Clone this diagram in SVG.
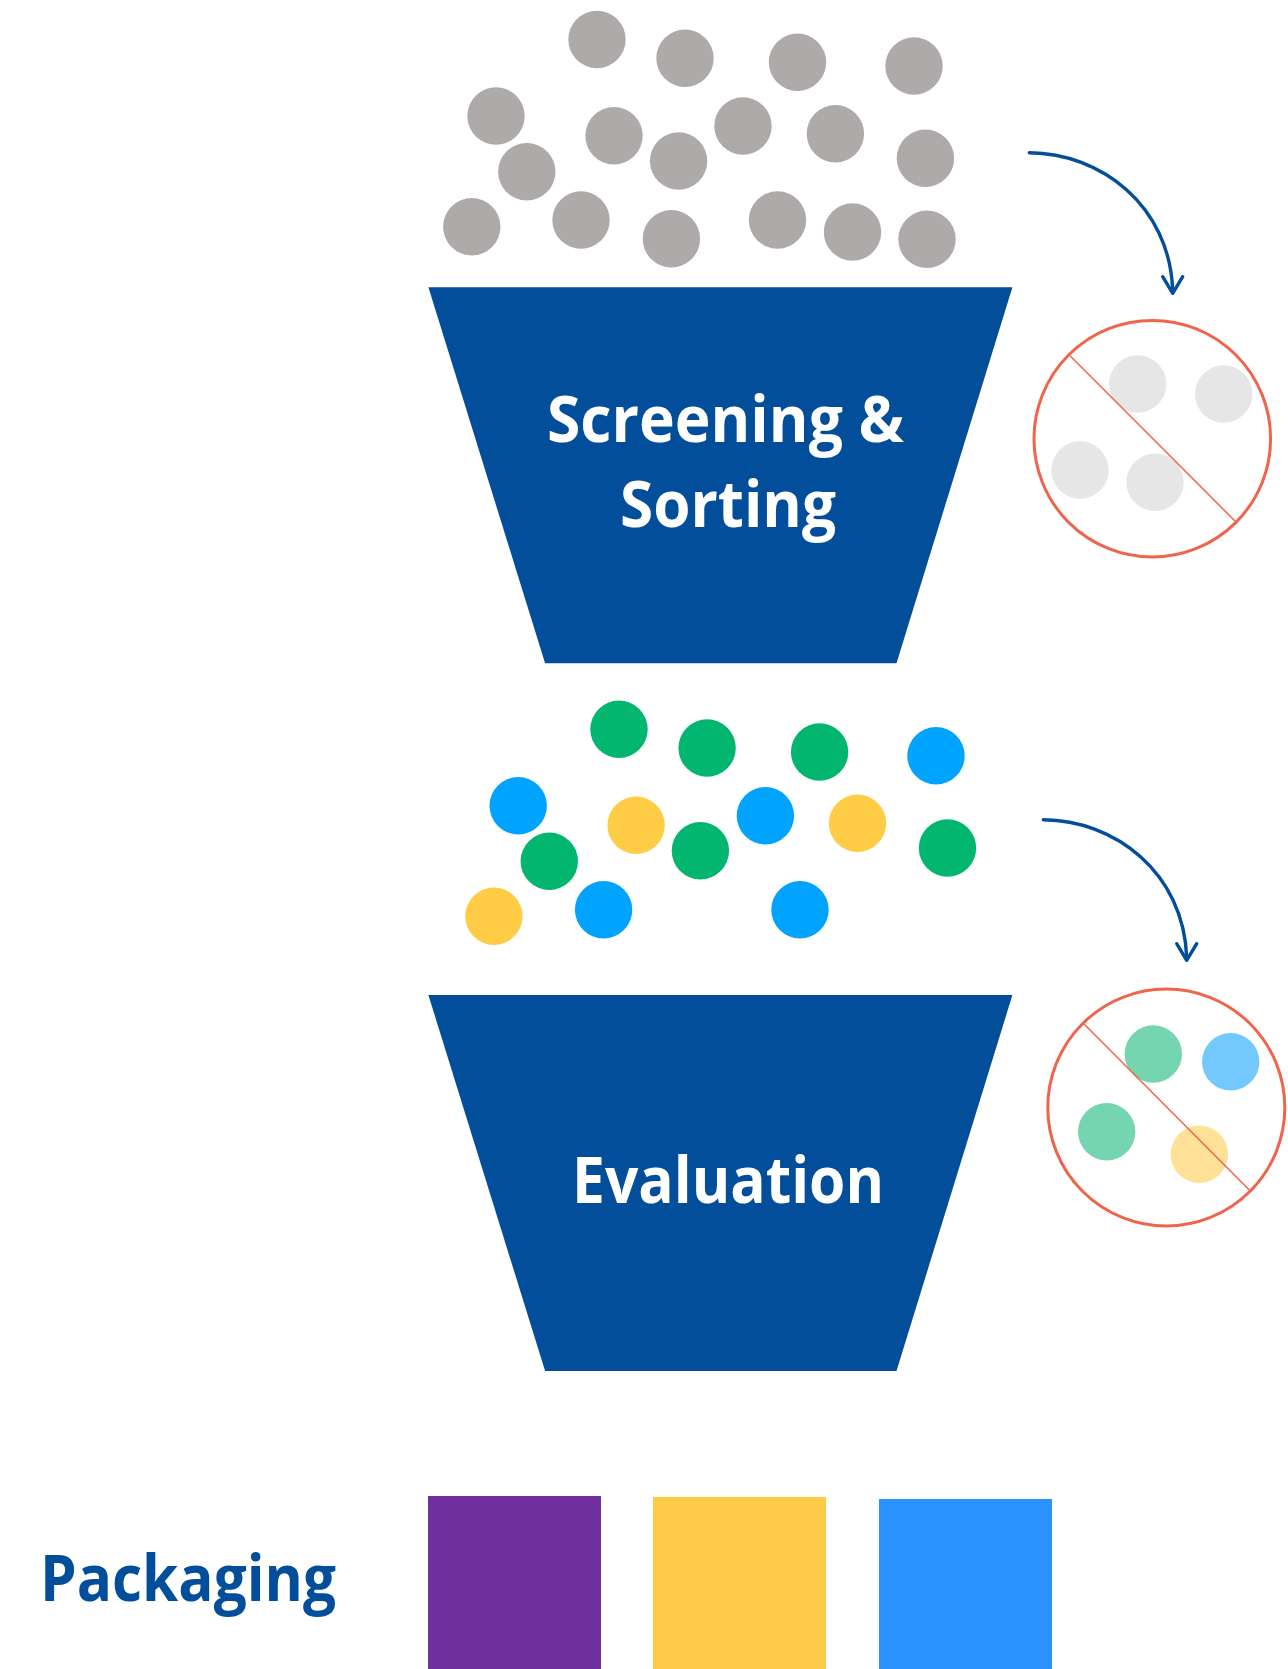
<svg xmlns="http://www.w3.org/2000/svg" width="1288" height="1669" viewBox="0 0 1288 1669">
  <style>
    .funnel { fill: #034E9A; }
    .label { font-family: "Open Sans", "Liberation Sans", sans-serif; font-weight: 700; font-size: 65px; }
    .label-in { fill: #FFFFFF; }
    .label-out { fill: #034E9A; }
    .raw { fill: #ADAAA9; }
    .green { fill: #02B66F; }
    .blue { fill: #00A3FE; }
    .yellow { fill: #FECC45; }
    .reject-ring { fill: none; stroke: #EE654B; stroke-width: 3; }
    .reject-slash { stroke: #EE654B; stroke-width: 1.5; }
    .flow { fill: none; stroke: #034E9A; stroke-width: 3.4; stroke-linecap: round; stroke-linejoin: round; }
  </style>

  <!-- incoming raw material -->
  <g id="raw-items">
    <circle class="raw" cx="597" cy="39.5" r="28.7"/>
    <circle class="raw" cx="685" cy="58.3" r="28.7"/>
    <circle class="raw" cx="797.5" cy="62.3" r="28.7"/>
    <circle class="raw" cx="914" cy="66" r="28.7"/>
    <circle class="raw" cx="496" cy="116" r="28.7"/>
    <circle class="raw" cx="614" cy="135.7" r="28.7"/>
    <circle class="raw" cx="743" cy="126" r="28.7"/>
    <circle class="raw" cx="835.4" cy="133.7" r="28.7"/>
    <circle class="raw" cx="925.4" cy="158.3" r="28.7"/>
    <circle class="raw" cx="526.8" cy="171.7" r="28.7"/>
    <circle class="raw" cx="678.6" cy="161" r="28.7"/>
    <circle class="raw" cx="471.8" cy="226.7" r="28.7"/>
    <circle class="raw" cx="581" cy="220" r="28.7"/>
    <circle class="raw" cx="671.4" cy="238.7" r="28.7"/>
    <circle class="raw" cx="777.5" cy="220" r="28.7"/>
    <circle class="raw" cx="852.5" cy="232" r="28.7"/>
    <circle class="raw" cx="927" cy="239.3" r="28.7"/>
  </g>

  <!-- stage 1 funnel -->
  <g id="screening-sorting">
    <polygon class="funnel" points="428.4,287.3 1012.4,287.3 896.5,663.3 545.1,663.3"/>
    <text class="label label-in" x="547" y="442" textLength="357" lengthAdjust="spacingAndGlyphs">Screening &amp;</text>
    <text class="label label-in" x="620" y="527" textLength="216" lengthAdjust="spacingAndGlyphs">Sorting</text>
  </g>

  <!-- rejected at stage 1 -->
  <g id="reject-1">
    <circle cx="1137.7" cy="384" r="28.7" fill="#E6E6E6"/>
    <circle cx="1223.7" cy="394" r="28.7" fill="#E6E6E6"/>
    <circle cx="1080" cy="470" r="28.7" fill="#E6E6E6"/>
    <circle cx="1155" cy="482.3" r="28.7" fill="#E6E6E6"/>
    <circle class="reject-ring" cx="1152.3" cy="438.7" r="118.3"/>
    <line class="reject-slash" x1="1070" y1="355.7" x2="1235.7" y2="521.7"/>
  </g>

  <!-- sorted items -->
  <g id="sorted-items">
    <circle class="green" cx="619" cy="729.3" r="28.7"/>
    <circle class="green" cx="707.1" cy="748" r="28.7"/>
    <circle class="green" cx="819.6" cy="752" r="28.7"/>
    <circle class="blue" cx="936" cy="755.7" r="28.7"/>
    <circle class="blue" cx="518.2" cy="805.7" r="28.7"/>
    <circle class="yellow" cx="636.1" cy="825.3" r="28.7"/>
    <circle class="blue" cx="765.4" cy="815.7" r="28.7"/>
    <circle class="yellow" cx="857.5" cy="823.3" r="28.7"/>
    <circle class="green" cx="549.3" cy="861.3" r="28.7"/>
    <circle class="green" cx="700.4" cy="850.7" r="28.7"/>
    <circle class="green" cx="947.5" cy="848" r="28.7"/>
    <circle class="yellow" cx="493.9" cy="916.3" r="28.7"/>
    <circle class="blue" cx="603.6" cy="909.7" r="28.7"/>
    <circle class="blue" cx="800" cy="909.7" r="28.7"/>
  </g>

  <!-- stage 2 funnel -->
  <g id="evaluation">
    <polygon class="funnel" points="428.4,995 1012.4,995 896.5,1371 545.1,1371"/>
    <text class="label label-in" x="572" y="1203" textLength="312" lengthAdjust="spacingAndGlyphs">Evaluation</text>
  </g>

  <!-- rejected at stage 2 -->
  <g id="reject-2">
    <circle cx="1153.3" cy="1054" r="28.7" fill="#75D5B0"/>
    <circle cx="1230.7" cy="1061.7" r="28.7" fill="#73C9FE"/>
    <circle cx="1106.7" cy="1131.7" r="28.7" fill="#75D5B0"/>
    <circle cx="1199.3" cy="1154.3" r="28.7" fill="#FEE097"/>
    <circle class="reject-ring" cx="1166.3" cy="1107.5" r="118.5"/>
    <line class="reject-slash" x1="1083.3" y1="1023.3" x2="1249.3" y2="1190"/>
  </g>

  <!-- packaging -->
  <g id="packaging">
    <text class="label label-out" x="40" y="1601" textLength="296" lengthAdjust="spacingAndGlyphs">Packaging</text>
    <rect x="428" y="1496" width="173" height="173" fill="#70309E"/>
    <rect x="653" y="1497" width="173" height="172" fill="#FDCB47"/>
    <rect x="879" y="1499" width="173" height="170" fill="#2A93FF"/>
  </g>

  <!-- reject flows -->
  <g id="connectors">
    <g id="flow-1">
      <path class="flow" d="M1029.3,152.7 C1100,153 1170,205 1172.7,291"/>
      <polyline class="flow" points="1162.7,276.7 1172.7,293.3 1182.7,276.7"/>
    </g>
    <g id="flow-2" transform="translate(14,667)">
      <path class="flow" d="M1029.3,152.7 C1100,153 1170,205 1172.7,291"/>
      <polyline class="flow" points="1162.7,276.7 1172.7,293.3 1182.7,276.7"/>
    </g>
  </g>
</svg>
